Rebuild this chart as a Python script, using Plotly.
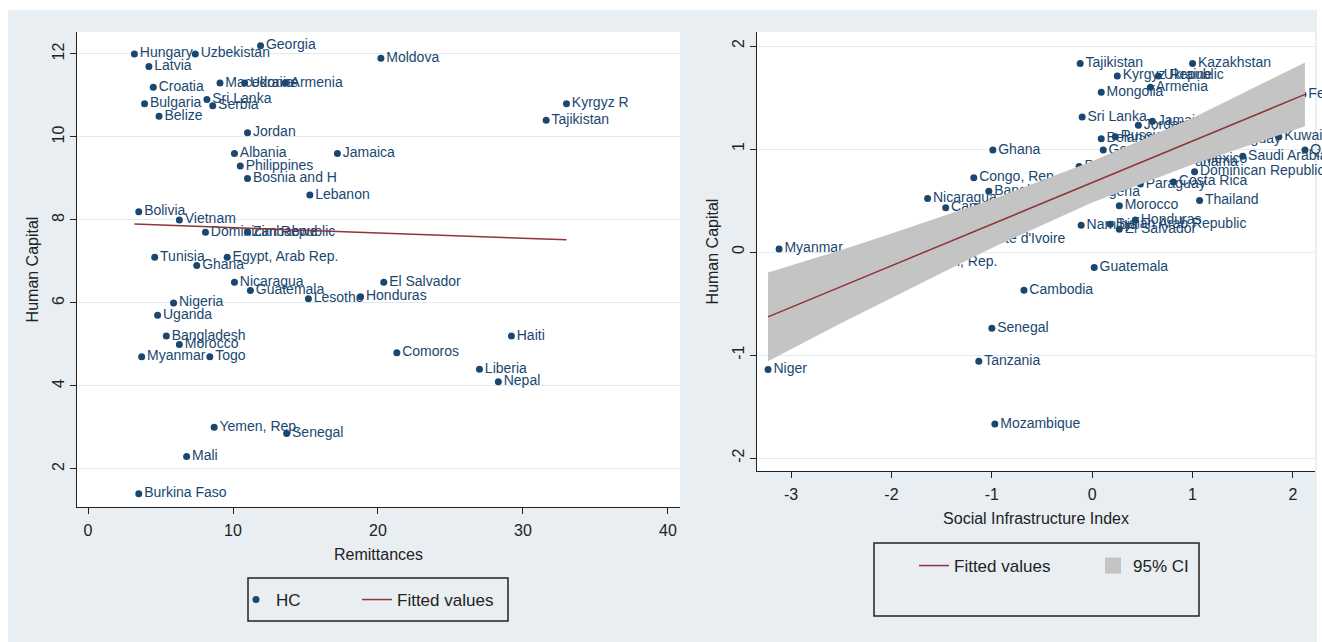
import plotly.graph_objects as go

W, H = 1322, 642

# ---- Left panel: remittances and human capital ----
rem_country = [
    "Hungary", "Uzbekistan", "Georgia", "Latvia", "Moldova", "Croatia",
    "Macedonia", "Ukraine", "Armenia", "Sri Lanka", "Serbia", "Bulgaria",
    "Belize", "Kyrgyz R", "Tajikistan", "Jordan", "Albania", "Jamaica",
    "Philippines", "Bosnia and H", "Lebanon", "Bolivia", "Vietnam",
    "Dominican Republic", "Zimbabwe", "Tunisia", "Egypt, Arab Rep.", "Ghana",
    "Nicaragua", "Guatemala", "El Salvador", "Lesotho", "Honduras", "Nigeria",
    "Uganda", "Bangladesh", "Morocco", "Haiti", "Myanmar", "Togo", "Comoros",
    "Liberia", "Nepal", "Yemen, Rep.", "Senegal", "Mali", "Burkina Faso",
]
rem_x = [
    3.2, 7.4, 11.9, 4.2, 20.2, 4.5,
    9.1, 10.8, 13.6, 8.2, 8.6, 3.9,
    4.9, 33.0, 31.6, 11.0, 10.1, 17.2,
    10.5, 11.0, 15.3, 3.5, 6.3,
    8.1, 11.0, 4.6, 9.6, 7.5,
    10.1, 11.2, 20.4, 15.2, 18.8, 5.9,
    4.8, 5.4, 6.3, 29.2, 3.7, 8.4, 21.3,
    27.0, 28.3, 8.7, 13.7, 6.8, 3.5,
]
rem_hc = [
    12.0, 12.0, 12.2, 11.7, 11.9, 11.2,
    11.3, 11.3, 11.3, 10.9, 10.75, 10.8,
    10.5, 10.8, 10.4, 10.1, 9.6, 9.6,
    9.3, 9.0, 8.6, 8.2, 8.0,
    7.7, 7.7, 7.1, 7.1, 6.9,
    6.5, 6.3, 6.5, 6.1, 6.15, 6.0,
    5.7, 5.2, 5.0, 5.2, 4.7, 4.7, 4.8,
    4.4, 4.1, 3.0, 2.85, 2.3, 1.4,
]
rem_fit_x = [3.2, 33.0]
rem_fit_y = [7.90, 7.52]
rem_xticks = [0, 10, 20, 30, 40]
rem_yticks = [2, 4, 6, 8, 10, 12]

# ---- Right panel: social infrastructure and human capital ----
sii_country = [
    "Tajikistan", "Kazakhstan", "Kyrgyz Republic", "Ukraine", "Mongolia",
    "Armenia", "Sri Lanka", "Jordan", "Jamaica", "Belarus",
    "Russian Federation", "Georgia", "Uruguay", "Kuwait", "Qatar",
    "Saudi Arabia", "Federation", "Panama", "Mexico", "Dominican Republic",
    "Costa Rica", "Paraguay", "Peru", "Nigeria", "Morocco", "Thailand",
    "Namibia", "Syrian Arab Republic", "El Salvador", "Honduras",
    "Guatemala", "Cambodia", "Ghana", "Congo, Rep", "Bangladesh",
    "Nicaragua", "Cameroon", "Cote d'Ivoire", "Yemen, Rep.", "Myanmar",
    "Senegal", "Tanzania", "Niger", "Mozambique",
]
sii_x = [
    -0.12, 1.00, 0.25, 0.66, 0.09,
    0.58, -0.10, 0.46, 0.60, 0.09,
    0.23, 0.11, 1.30, 1.86, 2.12,
    1.50, 2.10, 0.88, 1.05, 1.02,
    0.81, 0.48, -0.13, -0.02, 0.27, 1.07,
    -0.11, 0.18, 0.27, 0.43,
    0.02, -0.68, -0.99, -1.18, -1.03,
    -1.64, -1.46, -1.10, -1.80, -3.12,
    -1.00, -1.13, -3.23, -0.97,
]
sii_hc = [
    1.83, 1.83, 1.71, 1.71, 1.55,
    1.60, 1.31, 1.23, 1.27, 1.10,
    1.12, 0.99, 1.09, 1.12, 0.99,
    0.93, 1.53, 0.87, 0.90, 0.78,
    0.68, 0.66, 0.83, 0.58, 0.45, 0.50,
    0.26, 0.27, 0.22, 0.31,
    -0.15, -0.37, 0.99, 0.72, 0.59,
    0.52, 0.43, 0.12, -0.10, 0.03,
    -0.74, -1.06, -1.14, -1.67,
]
sii_fit_x = [-3.23, 2.12]
sii_fit_y = [-0.63, 1.53]
ci_x = [-3.23, -2.5, -2.0, -1.0, 0.0, 1.0, 2.12]
ci_lo = [-1.06, -0.69, -0.45, 0.04, 0.48, 0.85, 1.22]
ci_hi = [-0.20, 0.02, 0.18, 0.51, 0.88, 1.30, 1.84]
sii_xticks = [-3, -2, -1, 0, 1, 2]
sii_yticks = [-2, -1, 0, 1, 2]

# ---- styling ----
NAVY = "#1A476F"
MAROON = "#90353B"
CI_GRAY = "#C4C4C4"
BG = "#E8EEF1"
GRID = "#E3EAEE"
INK = "#222222"
LABEL_FONT = "Liberation Sans Narrow, Arial Narrow, Liberation Sans, Arial, sans-serif"
AXIS_FONT = "Liberation Sans, Arial, sans-serif"


def px_x(p):
    return p / W


def px_y(p):
    return 1 - p / H


def tick_text(vals):
    # plain hyphen for negatives
    return [str(v) for v in vals]


fig = go.Figure()

# left panel
fig.add_trace(go.Scatter(
    x=rem_x, y=rem_hc, mode="markers+text", text=rem_country,
    textposition="middle right",
    textfont=dict(family=LABEL_FONT, size=14, color=NAVY),
    marker=dict(color=NAVY, size=7),
    name="HC", legend="legend", xaxis="x", yaxis="y", cliponaxis=False,
))
fig.add_trace(go.Scatter(
    x=rem_fit_x, y=rem_fit_y, mode="lines",
    line=dict(color=MAROON, width=1.5),
    name="Fitted values", legend="legend3", xaxis="x", yaxis="y",
))

# right panel: points first, then the confidence band and fitted line on top
fig.add_trace(go.Scatter(
    x=sii_x, y=sii_hc, mode="markers+text", text=sii_country,
    textposition="middle right",
    textfont=dict(family=LABEL_FONT, size=14, color=NAVY),
    marker=dict(color=NAVY, size=7),
    name="HC", showlegend=False, xaxis="x2", yaxis="y2", cliponaxis=False,
))
fig.add_trace(go.Scatter(
    x=ci_x + ci_x[::-1], y=ci_hi + ci_lo[::-1], mode="lines",
    fill="toself", fillcolor=CI_GRAY, line=dict(width=0, color=CI_GRAY),
    name="95% CI", showlegend=False, xaxis="x2", yaxis="y2",
    hoverinfo="skip",
))
fig.add_trace(go.Scatter(
    x=sii_fit_x, y=sii_fit_y, mode="lines",
    line=dict(color=MAROON, width=1.5),
    name="Fitted values", legend="legend2",
    xaxis="x2", yaxis="y2",
))
# legend key for the confidence band
fig.add_trace(go.Scatter(
    x=[None], y=[None], mode="markers",
    marker=dict(symbol="square", size=24, color=CI_GRAY),
    name="95% CI", legend="legend4", xaxis="x2", yaxis="y2",
))

axis_common = dict(
    showline=True, linecolor=INK, linewidth=1,
    ticks="outside", ticklen=6, tickcolor=INK, tickwidth=1,
    tickfont=dict(family=AXIS_FONT, size=16, color=INK),
    zeroline=False,
    title_font=dict(family=AXIS_FONT, size=16, color=INK),
)

legend_common = dict(
    orientation="h", xanchor="left", yanchor="middle",
    bgcolor="rgba(0,0,0,0)", borderwidth=0,
    font=dict(family=AXIS_FONT, size=17, color=INK),
)

fig.update_layout(
    width=W, height=H,
    margin=dict(l=0, r=0, t=0, b=0),
    paper_bgcolor=BG, plot_bgcolor="white",
    xaxis=dict(
        domain=[px_x(77), px_x(680)], range=[-0.76, 40.83],
        tickvals=rem_xticks, ticktext=tick_text(rem_xticks), showgrid=False,
        ticklabelstandoff=3,
        title=dict(text="Remittances", standoff=10),
        anchor="y", **axis_common,
    ),
    yaxis=dict(
        domain=[px_y(507), px_y(32)], range=[1.08, 12.53],
        tickvals=rem_yticks, ticktext=tick_text(rem_yticks), tickangle=-90,
        showgrid=True, gridcolor=GRID, gridwidth=1,
        title=dict(text="Human Capital", standoff=6),
        anchor="x", **axis_common,
    ),
    xaxis2=dict(
        domain=[px_x(757), px_x(1315)], range=[-3.34, 2.22],
        tickvals=sii_xticks, ticktext=tick_text(sii_xticks), showgrid=False,
        ticklabelstandoff=3,
        title=dict(text="Social Infrastructure Index", standoff=10),
        anchor="y2", **axis_common,
    ),
    yaxis2=dict(
        domain=[px_y(471), px_y(32)], range=[-2.126, 2.136],
        tickvals=sii_yticks, ticktext=tick_text(sii_yticks), tickangle=-90,
        showgrid=True, gridcolor=GRID, gridwidth=1,
        title=dict(text="Human Capital", standoff=6),
        anchor="x2", **axis_common,
    ),
    # left legend: HC key and fitted-line key
    legend=dict(x=px_x(236), y=px_y(600), **legend_common),
    legend3=dict(x=px_x(357), y=px_y(600), **legend_common),
    # right legend: fitted-line key and CI key
    legend2=dict(x=px_x(914), y=px_y(566), **legend_common),
    legend4=dict(x=px_x(1093), y=px_y(566), **legend_common),
    shapes=[
        # outer white frame strips
        dict(type="rect", xref="paper", yref="paper", x0=0, x1=1, y0=px_y(10), y1=1,
             fillcolor="white", line_width=0, layer="below"),
        dict(type="rect", xref="paper", yref="paper", x0=0, x1=px_x(8), y0=0, y1=1,
             fillcolor="white", line_width=0, layer="below"),
        dict(type="rect", xref="paper", yref="paper", x0=px_x(1317), x1=1, y0=0, y1=1,
             fillcolor="white", line_width=0, layer="below"),
        # legend frames
        dict(type="rect", xref="paper", yref="paper",
             x0=px_x(248), x1=px_x(508), y0=px_y(621), y1=px_y(578),
             line=dict(color=INK, width=1.5), fillcolor="rgba(0,0,0,0)"),
        dict(type="rect", xref="paper", yref="paper",
             x0=px_x(874), x1=px_x(1199), y0=px_y(616), y1=px_y(543),
             line=dict(color=INK, width=1.5), fillcolor="rgba(0,0,0,0)"),
    ],
)

fig.write_html("out.html")
